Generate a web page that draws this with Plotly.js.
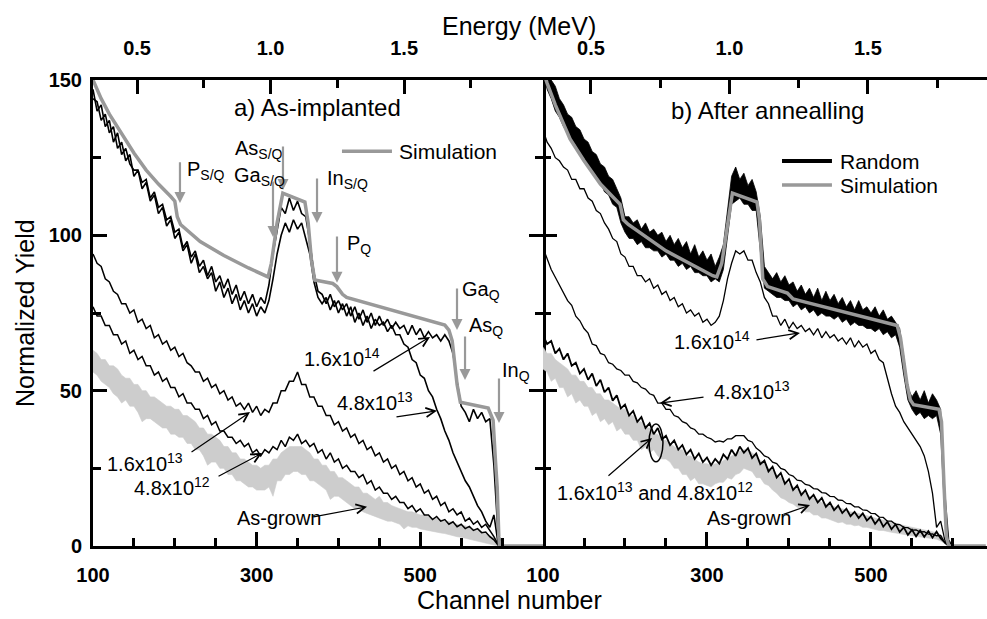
<!DOCTYPE html>
<html>
<head>
<meta charset="utf-8">
<script src="https://cdn.plot.ly/plotly-3.0.1.min.js"></script>
<style>
html,body{margin:0;padding:0;background:#fff;}
#chart{width:987px;height:619px;}
</style>
</head>
<body>
<div id="chart"></div>
<script>
// ---------- data ----------
const channels = [100,105,110,115,120,125,130,135,140,145,150,155,160,165,170,175,180,185,190,195,200,205,210,215,220,225,230,235,240,245,250,255,260,265,270,275,280,285,290,295,300,305,310,315,320,325,330,335,340,345,350,355,360,365,370,375,380,385,390,395,400,405,410,415,420,425,430,435,440,445,450,455,460,465,470,475,480,485,490,495,500,505,510,515,520,525,530,535,540,545,550,555,560,565,570,575,580,585,590,595,600];

// panel a) as-implanted
const aDose164 = [147,140,142,135,137,130,133,126,128,123,121,121,117,118,112,114,109,110,105,106,101,102,96,98,93,95,90,92,87,90,85,87,83,86,81,84,79,82,78,81,77,80,78,84,94,102,109,107,112,108,111,107,106,98,88,82,81,78,81,77,79,76,78,74,77,73,76,72,75,71,74,71,73,70,72,70,71,68,71,68,70,67,69,67,68,66,68,66,62,53,45,43,40,44,41,43,40,41,26,4,0];
const aDose48e13 = [144,143,137,139,133,135,128,130,124,126,119,121,115,117,111,113,107,109,103,105,99,101,95,97,91,94,88,90,86,88,82,85,80,83,78,81,76,79,75,78,74,77,75,79,86,94,100,104,101,105,102,104,99,94,85,80,78,80,76,79,75,78,74,77,72,75,71,74,70,73,71,72,69,71,68,68,65,64,60,59,55,54,50,48,44,41,37,34,30,27,24,21,19,16,13,11,8,6,10,1,0];
const aDose16e13 = [94,91,90,86,85,82,81,78,78,75,76,72,73,70,71,67,68,65,66,63,64,61,62,59,58,56,56,53,54,51,52,49,50,47,48,45,46,44,46,43,45,42,44,43,46,46,50,50,53,53,56,52,52,48,48,45,45,42,42,39,40,37,38,35,36,33,34,31,32,29,30,27,28,25,26,23,24,21,22,19,20,17,18,15,16,13,14,11,12,10,11,8,9,7,8,6,7,5,3,0.5,0];
const aDose48e12 = [77,74,74,71,71,68,68,65,66,62,63,60,61,58,58,55,56,53,54,51,51,48,49,46,46,44,44,41,42,39,40,37,37,35,35,33,34,32,33,30,31,29,31,30,32,31,34,32,35,34,36,33,34,32,33,30,31,28,30,27,28,25,26,24,24,22,23,20,21,18,19,17,17,15,16,14,14,12,13,11,12,10,10,8.5,9.5,8,8.5,7,7.8,6.2,7,5.6,6.3,5,5.6,4.3,4.5,3,2,0.3,0];
const aGrownUpper = [63,62,60,60,58,58,57,55,54,54,52,52,50,50,48,48,47,46,45,45,44,44,42,42,41,40,38,38,36,36,35,34,32,32,30,30,28,28,27,26,26,25,26,26,28,28,30,31,32,32,32,32,31,30,28,28,26,26,24,24,22,22,21,20,19,19,17,17,16,15,16,14,14,13,12.5,12,11.5,11,11,10.5,10,10,9.5,9,9,8.5,8,8,7.5,7,6.5,6.5,6,5.5,5,4.5,4,3.5,2.5,1,0];
const aGrownLower = [56,55,53,52,51,49,48,46,47,45,45,43,40,41,41,40,39,38,38,36,36,35,35,33,33,31,31,29,26,27,27,25,25,23,23,21,21,20,19,19,18,18,18,19,16,21,21,23,23,24,24,23,23,21,21,20,19,18,15,16,16,15,14,13,12,12,11,10.5,10,9.5,9,8.5,8,8,7.5,7,5.5,6.5,6,6,5.5,5.2,5,4.8,4.5,4.2,4,3.6,3.3,3,2.8,2.5,2.2,2,1.7,1.4,1.1,0.8,0.5,0,0];
const simAChannels = [100,110,120,135,150,165,180,195,200,203,207,231,260,290,314,318,325,332,359,363,367,371,393,398,405,410,451,530,535,539,545,549,583,587,589,592,594,596,597,650];
const simAYield = [150,144,139,132.5,126.5,121,116.5,112.5,111,106,103.5,98,93.5,89.5,86.6,91,104,113.6,110.7,104,92,85.6,84.5,83.5,81,80,77,71.1,69.5,66,52,46.3,44.4,42,40.5,27,19,3,0,0];

// panel b) after annealing
const bRandomUpper = [160,154,150,148,144,142,139,138,135,134,131,130,127,126,123,122,119,118,115,112,106,106,104,105,102,104,101,102,100,101,98,100,97,99,96,98,94,97,93,95,92,94,90,93,97,108,119,122,118,120,116,118,114,106,90,88,86,88,85,87,84,85,82,84,81,83,80,83,79,82,79,81,78,80,77,79,76,79,76,77,75,77,74,76,73,74,72,70,61,51,48,50,47,50,46,49,47,44,18,2,0];
const bRandomLower = [153,147,144,140,138,135,133,130,129,126,125,122,121,118,117,114,113,110,109,104,101,99,99,97,98,96,96,95,95,93,94,92,92,90,91,89,90,88,88,87,87,85,86,85,89,100,110,111,112,110,110,108,108,95,83,82,81,80,80,79,79,77,78,76,77,75,76,74,75,74,74,73,74,72,73,71,72,71,71,70,70,69,70,68,69,67,68,64,55,47,44,42,43,41,42,41,42,36,10,0,0];
const bDose164 = [134,130,128,125,124,122,121,118,118,115,115,112,111,108,107,104,102,99,98,94,93,90,90,87,87,85,86,83,84,81,82,79,80,77,78,75,76,74,75,72,73,71,72,74,79,86,91,95,94,95,92,92,88,85,80,78,74,74,71,73,70,72,70,71,69,70,68,70,67,69,67,68,66,67,65,67,64,66,64,65,62,63,60,59,54,49,45,43,40,38,36,34,32,29,24,17,6,8,2,0,0];
const bDose48e13 = [96,92.5,89,86.5,84,81.5,79,77.5,74,72.5,70,68.5,65,64.5,62,61.5,59,58.5,57,56.5,55,55,53,52.5,51,50.5,49,48.5,46,46,44,44,42,41.5,40,39.5,38,37.5,36,36,35,34.5,33.5,33.8,33.5,34.5,34.5,35.5,35.5,35.5,34,33.5,31.5,30.5,29,28.5,27,26.5,25,24.5,23,22.5,21.2,21,19.8,19.5,18.5,18.3,17.2,17,16,15.9,14.8,14.7,13.7,13.6,12.6,12.6,11.6,11.5,10.5,10.4,9.3,9.2,8,8,7,6.9,6,5.9,5.1,5.2,4.5,4.6,3.8,3.9,3.3,3.4,1,0,0];
const bDose16e13 = [68,65,66,62,63.5,60,62,58,59,55.5,57,53.5,55.5,51.5,53.5,49.5,51,46.8,48.5,44.3,45.5,42,43.5,40,41.5,38,39.5,36,38,34.3,35.5,32.5,34,31,32.5,29.5,31,28,29.8,27,28.5,26,28,26.5,29.5,28,31,29,32,30,31.5,28.3,29.8,26.3,27.5,24,25.5,22,23.5,20,21.5,18,19.5,16.4,18,15.1,16.5,14,15.5,12.6,14,11.5,13,10.6,12,9.6,11,9,10.5,8.2,9.5,7.1,8.8,6.2,7.8,5.4,7,4.5,6,3.6,5.2,3.1,5,2.9,4.8,2.7,4.6,2.4,1.2,0,0];
const bGrownUpper = [64,62,62,60,59,58,57,55,55,53,53,51,51,49,49,47,47,46,45,44,44,42,42,40,40,38,38,36,36,34,34,33,32,31,31,29,29,28,27,26.5,26.5,26,26.5,26.5,27.5,28,29,29.5,30.5,31,31,30,29,27.5,27,25,24.5,23,22,21,20,19,18.5,17.5,17,16,15.5,15,14,13.5,13,12.5,12.2,12,11.5,11,10.8,10.5,10,9.8,9.4,9,8.7,8.4,8,7.7,7.3,7,6.6,6.3,6,5.8,5.5,5.2,5,4.7,4.3,3.6,2.5,1,0];
const bGrownLower = [57,56,53,54,51,51,48,49,46,47,45,45,42,43,40,41,39,40,37,38,36,36,34,34,31,32,30,31,29,28,28,27,25,25,23,23,21,22,20,20,19.5,19,20,20.5,20.5,22,21.5,23,23.5,25,24.5,24,22,22,20,19.5,18,17,15.5,15,14,13.5,12.5,12,11,11,10,10,9,9,8.5,8,7.5,7.7,7,7,6.5,6.7,6,6,5.6,5.4,5,5,4.6,4.4,4.2,3.9,3.7,3.5,3.3,3.1,2.9,2.7,2.5,2.4,2.2,1.6,0.8,0,0];
const simBChannels = [100,105,115,133,150,170,194,198,204,250,307,312,318,325,331,361,364,368,374,398,405,420,532,536,544,548,552,583,586,589,592,595,640];
const simBYield = [153,149,142,131,124,116.5,110,105,103.5,95,87,86.6,91,103,113.6,110.7,105,86,83.5,81.4,79.5,78.5,71,67,52,47,45.5,44,40,20,3,0,0];

// tick labels
const channelTicks = [100,300,500];
const channelMinor = [150,200,250,350,400,450,550,600];
const energyTicks = [0.5,1.0,1.5];
const energyTickText = ['0.5','1.0','1.5'];
const energyMinor = [0.75,1.25,1.75];
const yieldTicks = [0,50,100,150];
const yieldMinor = [25,75,125];

// ---------- styling ----------
const FONT = 'Liberation Sans, Arial, Helvetica, sans-serif';
const SIM = '#999999';
const GROWN = '#cdcdcd';

function line(x, y, xa, ya, color, width) {
  return {x: x, y: y, xaxis: xa, yaxis: ya, type: 'scatter', mode: 'lines',
          line: {color: color, width: width}, hoverinfo: 'skip', showlegend: false};
}
function band(x, lo, hi, xa, ya, color, lineColor, lw) {
  return [
    {x: x, y: lo, xaxis: xa, yaxis: ya, type: 'scatter', mode: 'lines',
     line: {color: lineColor, width: lw}, hoverinfo: 'skip', showlegend: false},
    {x: x, y: hi, xaxis: xa, yaxis: ya, type: 'scatter', mode: 'lines', fill: 'tonexty',
     fillcolor: color, line: {color: lineColor, width: lw}, hoverinfo: 'skip', showlegend: false}
  ];
}
// empty carrier so the top energy axes get drawn
function carrier(xa, ya) {
  return {x: energyTicks, y: energyTicks.map(function () { return null; }), xaxis: xa, yaxis: ya,
          type: 'scatter', mode: 'markers', marker: {opacity: 0}, hoverinfo: 'skip', showlegend: false};
}

const traces = [].concat(
  band(channels, aGrownLower, aGrownUpper, 'x', 'y', GROWN, GROWN, 0.6),
  [line(channels, aDose48e12, 'x', 'y', '#000', 1.5),
   line(channels, aDose16e13, 'x', 'y', '#000', 1.5),
   line(channels, aDose48e13, 'x', 'y', '#000', 1.6),
   line(channels, aDose164, 'x', 'y', '#000', 1.6),
   line(simAChannels, simAYield, 'x', 'y', SIM, 3.5)],
  band(channels, bGrownLower, bGrownUpper, 'x2', 'y2', GROWN, GROWN, 0.6),
  [line(channels, bDose16e13, 'x2', 'y2', '#000', 1.8),
   line(channels, bDose48e13, 'x2', 'y2', '#000', 1.3),
   line(channels, bDose164, 'x2', 'y2', '#000', 1.3)],
  band(channels, bRandomLower, bRandomUpper, 'x2', 'y2', '#000', '#000', 0.8),
  [line(simBChannels, simBYield, 'x2', 'y2', SIM, 3.5),
   carrier('x3', 'y'), carrier('x4', 'y2')]
);

const split = 450 / 894;
const tickFont = {family: FONT, size: 20, color: '#000', weight: 'bold'};

function bottomAxis(domain, range, anchor) {
  return {domain: domain, range: range, anchor: anchor,
    showline: true, linewidth: 3, linecolor: '#000', zeroline: false, showgrid: false,
    tickmode: 'array', tickvals: channelTicks, ticks: 'inside', ticklen: 14, tickwidth: 3, tickcolor: '#000',
    minor: {tickmode: 'array', tickvals: channelMinor, ticks: 'inside', ticklen: 8, tickwidth: 3, tickcolor: '#000'},
    tickfont: tickFont, ticklabelstandoff: 9};
}
function topAxis(over, anchor, range) {
  return {overlaying: over, anchor: anchor, side: 'top', range: range,
    showline: true, linewidth: 3, linecolor: '#000', zeroline: false, showgrid: false,
    tickmode: 'array', tickvals: energyTicks, ticktext: energyTickText,
    ticks: 'inside', ticklen: 14, tickwidth: 3, tickcolor: '#000',
    minor: {tickmode: 'array', tickvals: energyMinor, ticks: 'inside', ticklen: 8, tickwidth: 3, tickcolor: '#000'},
    tickfont: tickFont, ticklabelstandoff: 14};
}
function yAxis(anchor, labels, mirror, showline) {
  return {domain: [0, 1], range: [0, 150], anchor: anchor,
    showline: showline, linewidth: 3, linecolor: '#000', zeroline: false, showgrid: false, mirror: mirror,
    tickmode: 'array', tickvals: yieldTicks, ticks: 'inside', ticklen: 14, tickwidth: 3, tickcolor: '#000',
    minor: {tickmode: 'array', tickvals: yieldMinor, ticks: 'inside', ticklen: 8, tickwidth: 3, tickcolor: '#000'},
    showticklabels: labels, tickfont: tickFont, ticklabelstandoff: 4};
}

function txt(t, x, y, xr, yr, size, anchor) {
  return {text: t, x: x, y: y, xref: xr, yref: yr, showarrow: false,
    xanchor: anchor || 'left', yanchor: 'middle',
    font: {family: FONT, size: size || 20, color: '#000'}};
}
function arrow(hx, hy, tx, ty, xr, yr) {
  return {text: '', x: hx, y: hy, ax: tx, ay: ty, xref: xr, yref: yr, axref: xr, ayref: yr,
    showarrow: true, arrowhead: 5, arrowsize: 1.5, arrowwidth: 1.2, arrowcolor: '#000', standoff: 0};
}
function garrow(x, yHead, yTail) {
  return {text: '', x: x, y: yHead, ax: x, ay: yTail, xref: 'x', yref: 'y', axref: 'x', ayref: 'y',
    showarrow: true, arrowhead: 2, arrowsize: 1, arrowwidth: 2.2, arrowcolor: SIM, standoff: 0};
}

const annotations = [
  txt('Energy (MeV)', 0.4765, 1.116, 'paper', 'paper', 25, 'center'),
  txt('Channel number', 0.4664, -0.1159, 'paper', 'paper', 25, 'center'),
  Object.assign(txt('Normalized Yield', -0.0761, 0.5, 'paper', 'paper', 25, 'center'), {textangle: -90}),
  txt('a) As-implanted', 373.8, 141, 'x', 'y', 24, 'center'),
  txt('b) After annealling', 374.4, 140.3, 'x2', 'y2', 24, 'center'),
  // element edges, panel a
  txt('P<sub>S/Q</sub>', 212, 121, 'x', 'y', 20),
  garrow(206.3, 110.4, 124),
  txt('As<sub>S/Q</sub>', 271.1, 127.5, 'x', 'y', 20),
  garrow(332.2, 114.6, 129.1),
  txt('Ga<sub>S/Q</sub>', 269.9, 118.8, 'x', 'y', 20),
  garrow(320, 99.5, 117.8),
  txt('In<sub>S/Q</sub>', 383.6, 118.1, 'x', 'y', 20),
  garrow(373.8, 104, 118.8),
  txt('P<sub>Q</sub>', 408, 97.2, 'x', 'y', 20),
  garrow(398.2, 84.7, 100.1),
  txt('Ga<sub>Q</sub>', 548.6, 82.4, 'x', 'y', 20),
  garrow(544.9, 69.5, 83.4),
  txt('As<sub>Q</sub>', 557.1, 70.5, 'x', 'y', 20),
  garrow(554.7, 53.4, 67.9),
  txt('In<sub>Q</sub>', 597.4, 56.3, 'x', 'y', 20),
  garrow(596.2, 39.6, 54.4),
  txt('Simulation', 471.6, 127.1, 'x', 'y', 21),
  // dose labels, panel a
  txt('1.6x10<sup>14</sup>', 355.4, 60.8, 'x', 'y', 20),
  arrow(511.9, 67.3, 441, 56.0, 'x', 'y'),
  txt('4.8x10<sup>13</sup>', 395.8, 46.4, 'x', 'y', 20),
  arrow(520.4, 43.5, 469.1, 41.5, 'x', 'y'),
  txt('1.6x10<sup>13</sup>', 114.7, 27.0, 'x', 'y', 20),
  arrow(291.9, 43.1, 218.6, 29.9, 'x', 'y'),
  txt('4.8x10<sup>12</sup>', 147.7, 19.0, 'x', 'y', 20),
  arrow(306.6, 29.9, 251.6, 22.2, 'x', 'y'),
  txt('As-grown', 273.6, 9.0, 'x', 'y', 20),
  arrow(434.9, 12.6, 367.7, 9.3, 'x', 'y'),
  // panel b
  txt('Random', 459.8, 123.9, 'x2', 'y2', 21),
  txt('Simulation', 459.8, 116.2, 'x2', 'y2', 21),
  txt('1.6x10<sup>14</sup>', 257.3, 66.3, 'x2', 'y2', 20),
  arrow(413.4, 68.6, 358.5, 66.3, 'x2', 'y2'),
  txt('4.8x10<sup>13</sup>', 306.1, 49.9, 'x2', 'y2', 20),
  arrow(242.7, 46.0, 297.6, 48.0, 'x2', 'y2'),
  txt('1.6x10<sup>13</sup> and 4.8x10<sup>12</sup>', 114.6, 17.4, 'x2', 'y2', 20),
  arrow(232.9, 34.8, 178.0, 22.2, 'x2', 'y2'),
  txt('As-grown', 297.6, 9.0, 'x2', 'y2', 20),
  arrow(425.6, 13.2, 391.5, 10.0, 'x2', 'y2')
];

const shapes = [
  {type: 'line', xref: 'x', yref: 'y', x0: 404.3, x1: 465.4, y0: 127.1, y1: 127.1, line: {color: SIM, width: 3.5}},
  {type: 'line', xref: 'x2', yref: 'y2', x0: 391.5, x1: 452.4, y0: 123.9, y1: 123.9, line: {color: '#000', width: 4}},
  {type: 'line', xref: 'x2', yref: 'y2', x0: 391.5, x1: 452.4, y0: 116.2, y1: 116.2, line: {color: SIM, width: 3.5}},
  {type: 'circle', xref: 'x2', yref: 'y2', x0: 229.3, x1: 246.3, y0: 27.1, y1: 39.3, line: {color: '#000', width: 1.5}}
];

const layout = {
  width: 987, height: 619,
  margin: {l: 93, r: 0, t: 80, b: 73, pad: 0},
  paper_bgcolor: '#fff', plot_bgcolor: '#fff',
  font: {family: FONT, color: '#000'},
  showlegend: false,
  xaxis: bottomAxis([0, split], [100, 650], 'y'),
  xaxis2: bottomAxis([split, 1], [100, 641.5], 'y2'),
  xaxis3: topAxis('x', 'y', [0.335, 2.02]),
  xaxis4: topAxis('x2', 'y2', [0.327, 1.93]),
  yaxis: yAxis('x', true, 'ticks', true),
  yaxis2: yAxis('x2', false, false, false),
  annotations: annotations,
  shapes: shapes
};

Plotly.newPlot('chart', traces, layout, {staticPlot: true, displayModeBar: false});
</script>
</body>
</html>
